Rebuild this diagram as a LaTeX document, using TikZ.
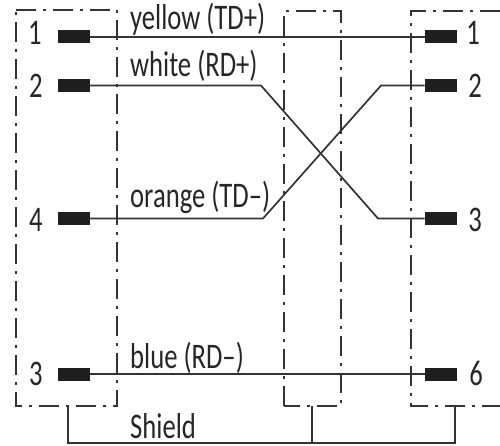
\documentclass[tikz,border=0pt]{standalone}
\usepackage{fontspec}
\setmainfont[FakeStretch=0.74]{Carlito}
\tikzset{
  housing/.style={line width=1.6pt,color=black!80,dash pattern=on 20pt off 7pt on 3pt off 7pt},
  wire/.style={line width=1.7pt,color=black!80,line join=round},
  shieldwire/.style={line width=1.7pt,color=black!80,line join=miter},
  pin/.style={fill=black!88,draw=none,minimum width=32pt,minimum height=13pt,inner sep=0pt,outer sep=0pt},
  num/.style={font=\fontsize{36}{36}\selectfont,color=black!85,inner sep=0pt,anchor=base},
  lab/.style={font=\fontsize{36}{36}\selectfont,color=black!85,inner sep=0pt,anchor=base west}
}
\begin{document}
\begin{tikzpicture}[x=1pt,y=-1pt]
\useasboundingbox (0,0) rectangle (500,446);
% housings
\coordinate (la) at (16,10); \coordinate (lb) at (117,10);
\coordinate (lc) at (117,406); \coordinate (ld) at (16,406);
\coordinate (ma) at (284,11); \coordinate (mb) at (341,11);
\coordinate (mc) at (341,406); \coordinate (md) at (284,406);
\coordinate (ra) at (411,11); \coordinate (rb) at (500,11);
\coordinate (rc) at (500,406); \coordinate (rd) at (411,406);
\draw[housing] (la) -- (lb) -- (lc) -- (ld) -- cycle;
\draw[housing] (md) -- (ma) -- (mb) -- (mc) -- cycle;
\draw[housing] (rb) -- (ra) -- (rd) -- (rc);
% pins
\node[pin] (L1) at (74,37) {};
\node[pin] (L2) at (74,85.5) {};
\node[pin] (L4) at (74,218.5) {};
\node[pin] (L3) at (74,374) {};
\node[pin] (R1) at (440.5,37) {};
\node[pin] (R2) at (440.5,85.5) {};
\node[pin] (R3) at (440.5,218.5) {};
\node[pin] (R6) at (440.5,374) {};
% pin numbers
\node[num] (n1) at (35,45) {1};
\node[num] (n2) at (36,98) {2};
\node[num] (n4) at (36,232) {4};
\node[num] (n3) at (36,385) {3};
\node[num] (m1) at (473,45) {1};
\node[num] (m2) at (475,98) {2};
\node[num] (m3) at (475,232) {3};
\node[num] (m6) at (476,385) {6};
% wire labels
\node[lab] (ty) at (130,30) {yellow (TD+)};
\node[lab] (tw) at (130,77) {white (RD+)};
\node[lab] (to) at (130,208) {orange (TD–)};
\node[lab] (tb) at (130,368) {blue (RD–)};
\node[lab] (ts) at (130,438) {Shield};
% wires
\coordinate (wa) at (261,85.5); \coordinate (wb) at (378,218.5);
\coordinate (oa) at (263,218.5); \coordinate (ob) at (381,85.5);
\draw[wire] (L1.east) -- (R1.west);
\draw[wire] (L2.east) -- (wa) -- (wb) -- (R3.west);
\draw[wire] (L4.east) -- (oa) -- (ob) -- (R2.west);
\draw[wire] (L3.east) -- (R6.west);
% shield
\coordinate (sl) at (68,406); \coordinate (sm) at (312,406); \coordinate (sr) at (455,406);
\coordinate (slb) at (68,443); \coordinate (smb) at (312,443); \coordinate (srb) at (455,443);
\draw[shieldwire] (sl) -- (slb) -- (srb) -- (sr);
\draw[shieldwire] (sm) -- (smb);
\end{tikzpicture}
\end{document}
